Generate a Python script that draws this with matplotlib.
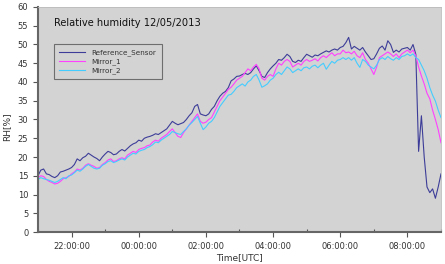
import matplotlib
matplotlib.use("Agg")
import matplotlib.pyplot as plt
import matplotlib.dates as mdates
import numpy as np
from datetime import datetime, timedelta

# ---- data (5-minute samples from 21:00 on 11/05/2013 to 09:00 on 12/05/2013) ----
start_time = datetime(2013, 5, 11, 21, 0)
step_minutes = 5

reference_sensor = [
    15.0, 16.5, 16.8, 15.5, 15.3, 14.8, 14.5, 15.0, 16.0, 16.2, 16.5, 16.8,
    17.2, 18.0, 19.5, 19.0, 19.8, 20.2, 21.0, 20.5, 20.0, 19.6, 19.0, 20.0,
    20.8, 21.5, 21.2, 20.6, 20.8, 21.5, 22.0, 21.6, 22.3, 23.0, 23.5, 23.8,
    24.5, 24.2, 25.0, 25.3, 25.5, 25.8, 26.2, 26.0, 26.5, 27.0, 27.5, 28.5,
    29.5, 29.0, 28.6, 28.9, 29.2, 30.0, 31.0, 31.8, 33.5, 34.0, 31.5, 31.2,
    31.0, 31.5, 32.7, 33.5, 35.0, 36.2, 37.0, 37.5, 38.5, 40.3, 40.8, 41.5,
    41.6, 42.0, 42.3, 42.0, 42.5, 43.5, 44.3, 43.0, 41.5, 41.2, 42.5, 43.5,
    44.3, 45.0, 46.0, 45.8, 46.5, 47.4, 46.8, 45.5, 45.2, 45.8, 45.5, 46.5,
    47.4, 47.0, 46.6, 47.2, 47.0, 47.5, 47.9, 48.3, 48.0, 48.5, 48.8, 48.5,
    49.2, 49.5, 50.5, 51.9, 48.8, 49.5, 49.0, 48.5, 49.2, 48.0, 47.0, 46.0,
    46.2, 47.5, 49.0, 49.6, 48.5, 51.0, 50.0, 47.9, 48.5, 48.0, 48.8, 49.0,
    49.2, 48.5, 50.0, 47.4, 21.5, 31.0, 20.0, 12.0, 10.5, 11.5, 9.0, 12.0,
    15.5,
]

mirror_1 = [
    14.5, 15.0, 14.8, 14.0, 13.5, 13.2, 12.8, 13.0, 13.5, 14.2, 14.5, 14.8,
    15.5, 16.0, 16.8, 16.5, 17.0, 17.8, 18.2, 17.8, 17.5, 17.0, 17.2, 18.0,
    18.5, 19.2, 19.5, 18.8, 19.0, 19.5, 19.8, 19.5, 20.5, 21.0, 21.5, 21.2,
    22.0, 22.3, 22.5, 23.0, 23.2, 24.0, 24.5, 24.2, 25.0, 25.5, 26.0, 26.8,
    27.5, 26.5, 25.5, 25.2, 26.5, 27.5, 28.5, 29.5, 30.5, 31.5, 29.5, 29.0,
    29.3, 30.0, 30.5, 32.0, 33.5, 35.0, 36.0, 37.0, 38.0, 38.6, 39.5, 40.5,
    41.0, 41.5, 42.5, 43.5, 43.0, 44.0, 44.7, 43.5, 41.0, 40.5, 41.5, 42.0,
    41.5, 43.5, 45.0, 44.5, 45.5, 46.0, 45.5, 44.0, 44.5, 45.0, 44.5, 45.5,
    46.0, 45.5, 45.8, 46.2, 45.6, 46.5, 47.0, 46.5, 47.2, 47.8, 47.0, 47.5,
    47.5, 48.5, 47.8, 48.0, 47.5, 48.2, 47.0, 46.5, 47.8, 46.0, 45.0, 43.5,
    42.0, 44.0, 46.5, 47.0, 47.5, 48.0, 47.5, 46.8, 47.5, 46.5, 47.5, 48.0,
    48.5, 47.8, 48.5, 47.0, 44.0, 41.6, 39.5, 37.0, 35.5, 32.5, 30.0, 27.3,
    23.8,
]

mirror_2 = [
    14.0, 14.5, 14.2, 14.0, 13.8, 13.5, 13.2, 13.5, 14.0, 14.5, 14.2, 15.0,
    15.2, 15.8, 16.5, 16.2, 16.8, 17.5, 18.0, 17.5, 17.0, 16.8, 17.0, 17.8,
    18.2, 18.8, 19.0, 18.5, 18.8, 19.2, 19.5, 19.2, 20.0, 20.5, 21.0, 20.8,
    21.5, 21.8, 22.0, 22.5, 22.8, 23.3, 24.0, 23.8, 24.5, 25.0, 25.5, 26.0,
    26.8, 26.5, 26.2, 26.0, 26.8, 27.5, 28.5, 29.2, 30.0, 30.8, 29.0, 27.3,
    28.0, 29.0, 29.5, 30.5, 32.0, 33.5, 34.5, 35.5, 36.5, 36.7, 37.5, 38.5,
    39.0, 39.5, 38.9, 40.0, 40.5, 41.5, 42.0, 40.5, 38.6, 39.0, 39.5, 40.5,
    41.0, 42.0, 42.6, 42.0, 43.0, 44.0, 43.5, 42.5, 43.0, 43.5, 43.0, 43.8,
    44.0, 43.5, 44.2, 44.5, 43.8, 44.5, 45.0, 43.4, 44.5, 45.5, 45.0, 45.8,
    46.0, 46.5, 46.0, 46.5, 45.8, 46.5, 45.0, 43.9, 46.0, 45.5, 44.5, 44.0,
    43.5, 44.5, 46.0, 46.5, 46.0, 46.8, 46.2, 45.8, 46.5, 46.0, 46.8, 47.0,
    47.5, 47.0, 47.5, 46.5, 46.0, 44.5, 43.0, 41.0, 38.5, 36.5, 34.9, 32.5,
    30.5,
]

series_names = ["Reference_Sensor", "Mirror_1", "Mirror_2"]
series_colors = ["#3d3d99", "#ff40ff", "#44ccff"]
title_text = "Relative humidity 12/05/2013"
y_ticks = [0, 5, 10, 15, 20, 25, 30, 35, 40, 45, 50, 55, 60]

times = [start_time + timedelta(minutes=step_minutes * i) for i in range(len(reference_sensor))]

fig = plt.figure(figsize=(4.45, 2.64), dpi=100)
ax = fig.add_axes([0.0854, 0.1212, 0.9056, 0.8523])
ax.set_facecolor("#d3d3d3")

for vals, name, col in zip([reference_sensor, mirror_1, mirror_2], series_names, series_colors):
    ax.plot(times, vals, color=col, lw=0.8, label=name)

ax.set_xlim(start_time, start_time + timedelta(hours=12))
ax.set_ylim(0, 60)
ax.set_yticks(y_ticks)

ax.xaxis.set_major_locator(mdates.HourLocator(byhour=range(0, 24, 2)))
ax.xaxis.set_minor_locator(mdates.HourLocator(byhour=range(1, 24, 2)))
ax.xaxis.set_major_formatter(mdates.DateFormatter("%H:%M:%S"))

ax.tick_params(axis="both", which="major", labelsize=6, colors="#555555",
               labelcolor="#333333", length=3.5, width=0.8, direction="out")
ax.tick_params(axis="x", which="minor", length=2.5, width=0.8, colors="#555555",
               direction="in")

for s in ["left", "bottom"]:
    ax.spines[s].set_color("#666666")
    ax.spines[s].set_linewidth(1.5)
for s in ["top", "right"]:
    ax.spines[s].set_color("#bbbbbb")
    ax.spines[s].set_linewidth(0.6)

ax.set_xlabel("Time[UTC]", fontsize=6.5, color="#333333", labelpad=2)
ax.set_ylabel("RH[%]", fontsize=6.5, color="#333333", va="center")
ax.yaxis.set_label_coords(-0.077, 0.47)

ax.text(0.04, 0.929, title_text, transform=ax.transAxes, fontsize=7.1,
        color="#111111", va="center", ha="left")

leg = ax.legend(loc="upper left", bbox_to_anchor=(0.04, 0.835), borderaxespad=0,
                fontsize=5.2, frameon=True, fancybox=False, facecolor="#d3d3d3",
                edgecolor="#555555", handlelength=3.6, borderpad=0.7,
                labelspacing=0.3, handletextpad=0.9)
leg.get_frame().set_linewidth(0.8)
for t in leg.get_texts():
    t.set_color("#333333")

fig.savefig("out.png", dpi=100)
